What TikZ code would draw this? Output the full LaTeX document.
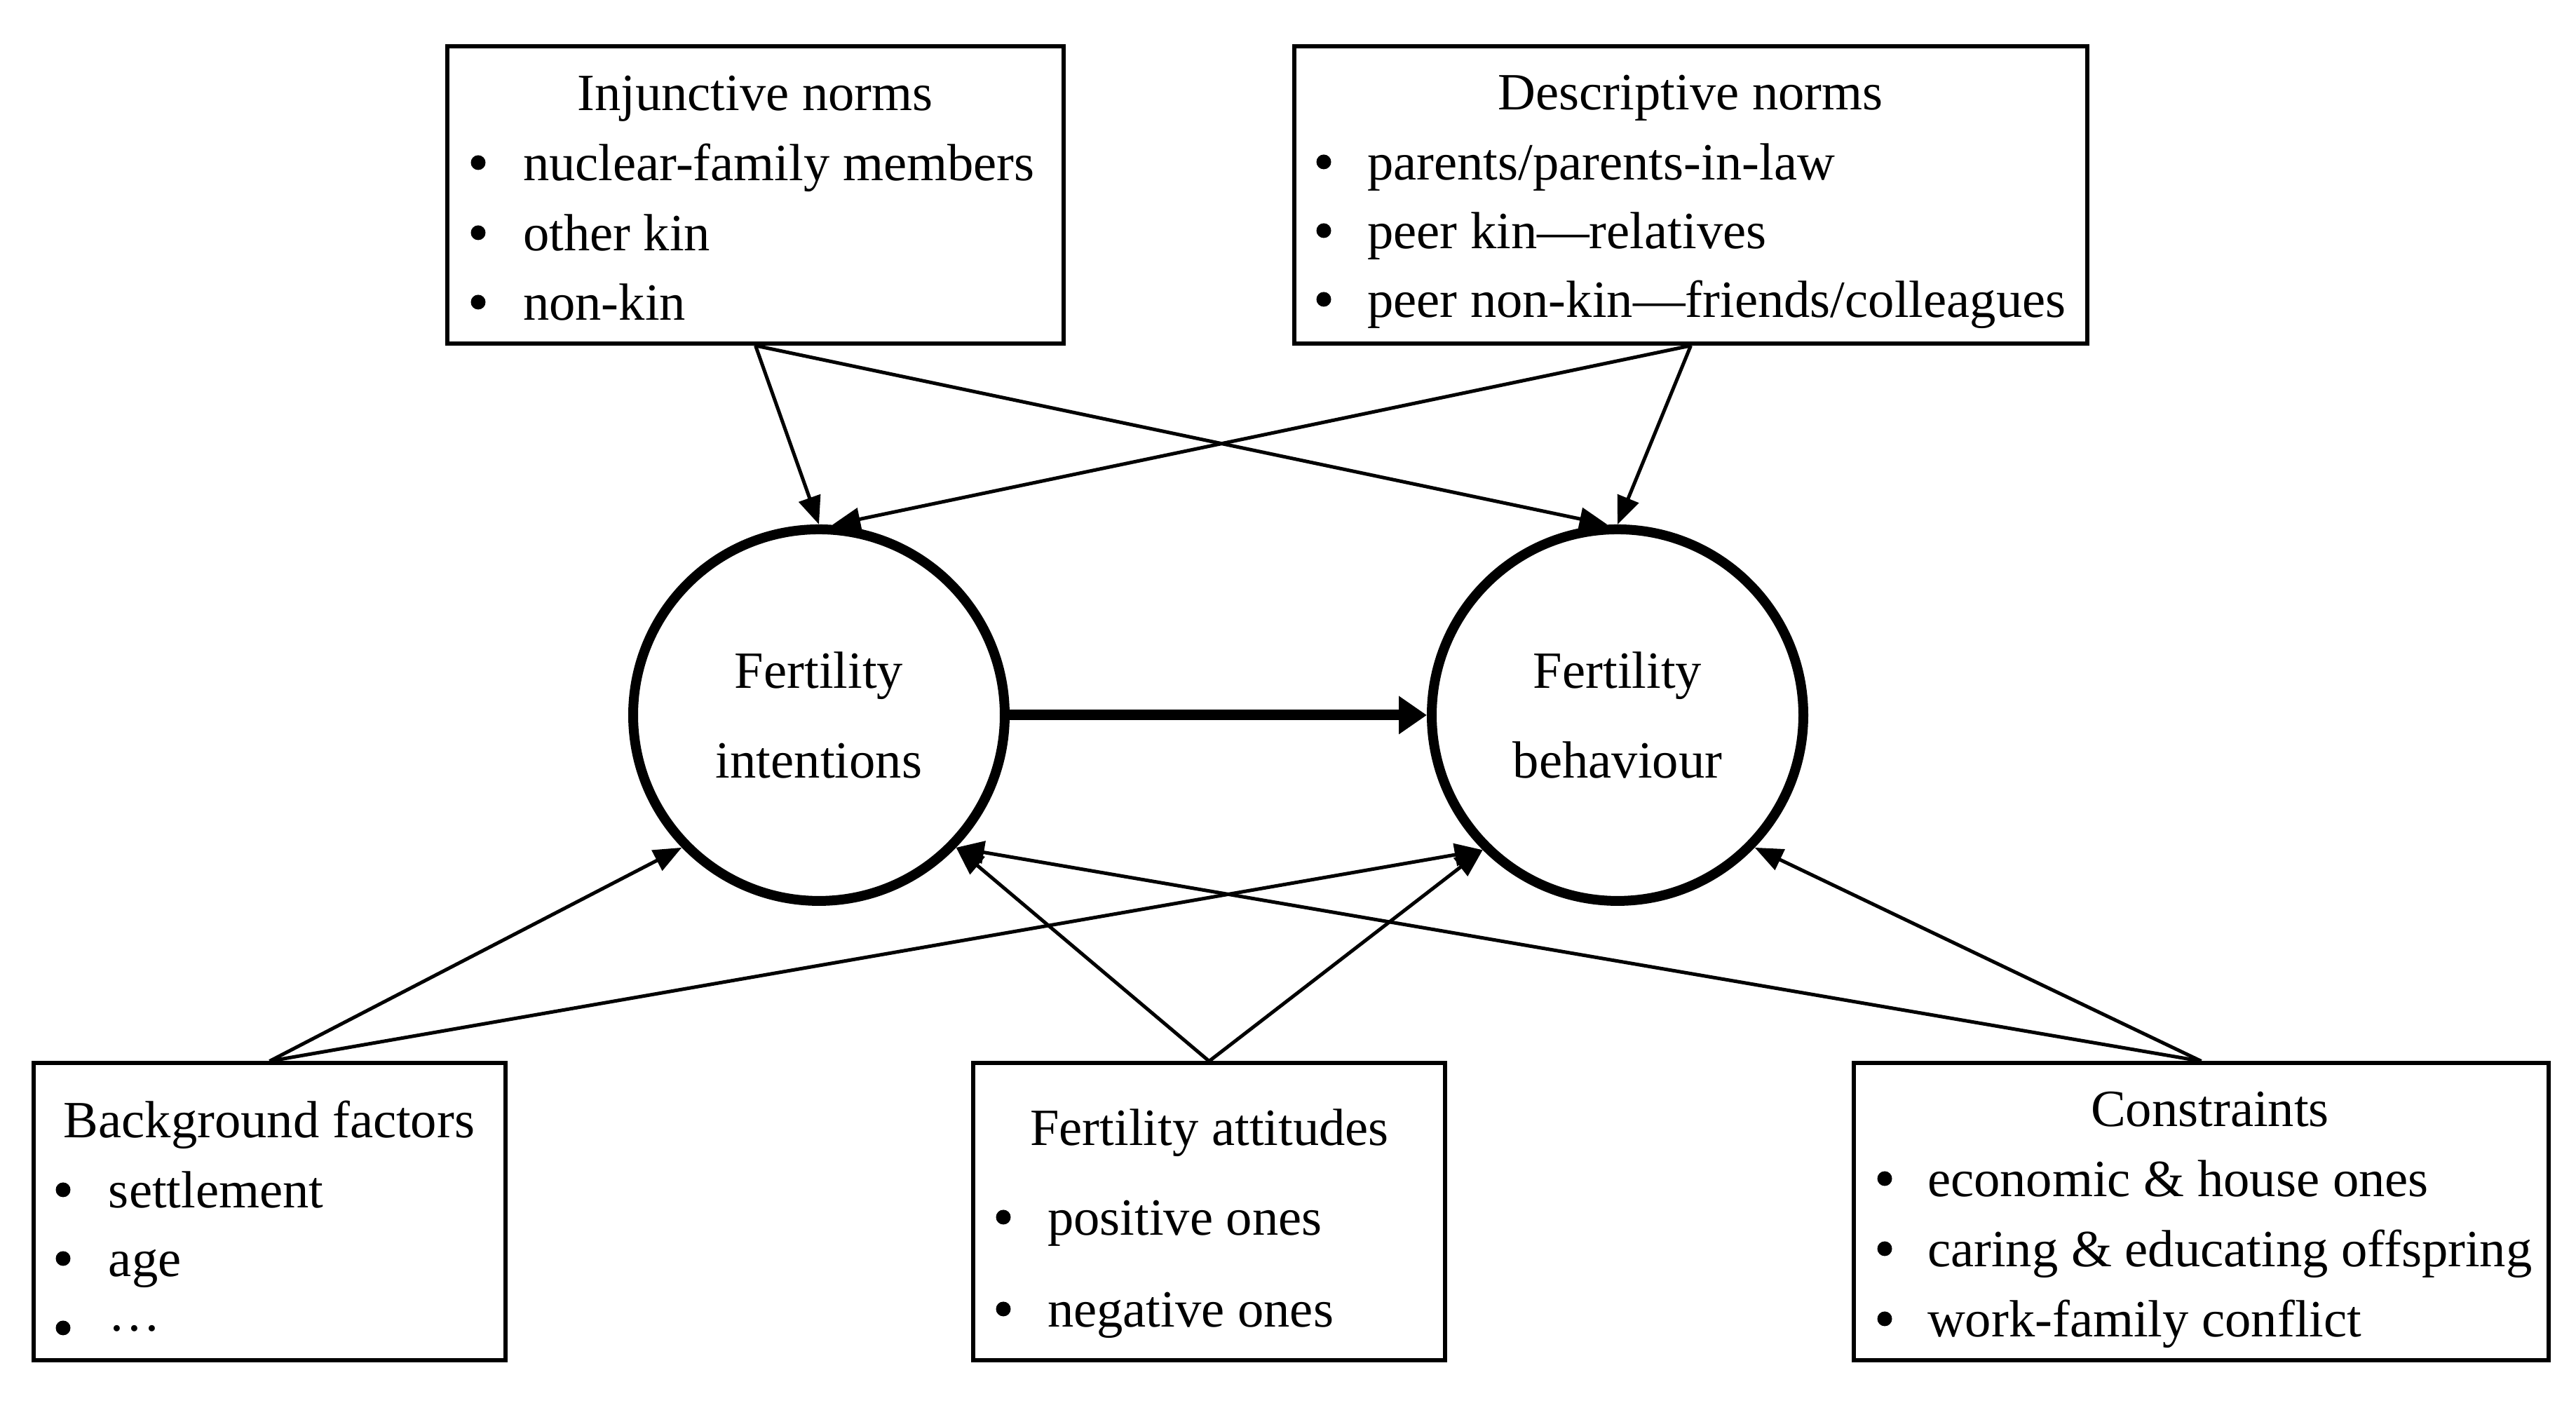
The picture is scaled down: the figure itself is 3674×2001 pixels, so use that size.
\documentclass[tikz,border=0pt]{standalone}
\usepackage{fontspec}
\setmainfont{Liberation Serif}
\usetikzlibrary{arrows.meta}
\begin{document}
\begin{tikzpicture}[x=0.1pt,y=0.1pt,
  every node/.style={font=\fontsize{7.46pt}{10pt}\selectfont},
  boxnode/.style={draw, line width=0.6pt, rectangle, inner sep=0pt, minimum height=42.4pt},
  ttl/.style={anchor=base, inner sep=0pt},
  bul/.style={circle, fill, inner sep=0pt, minimum size=2.1pt},
  itm/.style={anchor=base west, inner sep=0pt},
  circ/.style={draw, circle, line width=1.4pt, minimum size=53pt, inner sep=0pt, align=center, font=\fontsize{7.46pt}{12.8pt}\selectfont},
  arr/.style={line width=0.5pt, -{Triangle[length=4pt,width=3.2pt]}},
  bigarr/.style={line width=1.5pt, -{Triangle[length=4pt,width=5.2pt]}}
]
\fill[white] (0,0) rectangle (3674,2001);
\useasboundingbox (0,0) rectangle (3674,2001);

% boxes
\node[boxnode, minimum width=87.9pt] (inj) at (1077.5,1723) {};
\node[boxnode, minimum width=113.1pt] (desc) at (2411.5,1723) {};
\node[boxnode, minimum width=67.3pt] (bg) at (384.5,272.5) {};
\node[boxnode, minimum width=67.3pt] (att) at (1724.5,272.5) {};
\node[boxnode, minimum width=99.1pt] (con) at (3139.5,272.5) {};

% circles
\node[circ] (c1) at (1168,981) {Fertility\\intentions};
\node[circ] (c2) at (2307,981) {Fertility\\behaviour};

% injunctive norms text
\node[ttl] (injt) at (1077,1843) {Injunctive norms};
\node[bul] (injb1) at (682,1769) {};
\node[itm] (inji1) at (744,1743) {nuclear-family members};
\node[bul] (injb2) at (682,1669) {};
\node[itm] (inji2) at (744,1643) {other kin};
\node[bul] (injb3) at (682,1570) {};
\node[itm] (inji3) at (744,1544) {non-kin};

% descriptive norms text
\node[ttl] (desct) at (2411,1844) {Descriptive norms};
\node[bul] (descb1) at (1888,1770) {};
\node[itm] (desci1) at (1948,1744) {parents/parents-in-law};
\node[bul] (descb2) at (1888,1672) {};
\node[itm] (desci2) at (1948,1646) {peer kin—relatives};
\node[bul] (descb3) at (1888,1574) {};
\node[itm] (desci3) at (1948,1548) {peer non-kin—friends/colleagues};

% background factors text
\node[ttl] (bgt) at (384,378) {Background factors};
\node[bul] (bgb1) at (90,304) {};
\node[itm] (bgi1) at (153,278) {settlement};
\node[bul] (bgb2) at (90,206) {};
\node[itm] (bgi2) at (153,180) {age};
\node[bul] (bgb3) at (90,107) {};
\node[itm] (bgi3) at (153,81) {···};

% fertility attitudes text
\node[ttl] (attt) at (1725,367) {Fertility attitudes};
\node[bul] (attb1) at (1431,265) {};
\node[itm] (atti1) at (1492,239) {positive ones};
\node[bul] (attb2) at (1431,134) {};
\node[itm] (atti2) at (1492,108) {negative ones};

% constraints text
\node[ttl] (cont) at (3152,394) {Constraints};
\node[bul] (conb1) at (2688,320) {};
\node[itm] (coni1) at (2747,294) {economic \& house ones};
\node[bul] (conb2) at (2688,220) {};
\node[itm] (coni2) at (2747,194) {caring \& educating offspring};
\node[bul] (conb3) at (2688,120) {};
\node[itm] (coni3) at (2747,94) {work-family conflict};

% arrows
\draw[arr] (inj.south) -- (c1.north);
\draw[arr] (inj.south) -- (c2.93);
\draw[arr] (desc.south) -- (c1.86);
\draw[arr] (desc.south) -- (c2.north);
\draw[arr] (bg.north) -- (c1.224);
\draw[arr] (bg.north) -- (c2.225);
\draw[arr] (att.north) -- (c1.316);
\draw[arr] (att.north) -- (c2.225);
\draw[arr] (con.north) -- (c1.316);
\draw[arr] (con.north) -- (c2.316);
\draw[bigarr] (c1.east) -- (c2.west);
\end{tikzpicture}
\end{document}
